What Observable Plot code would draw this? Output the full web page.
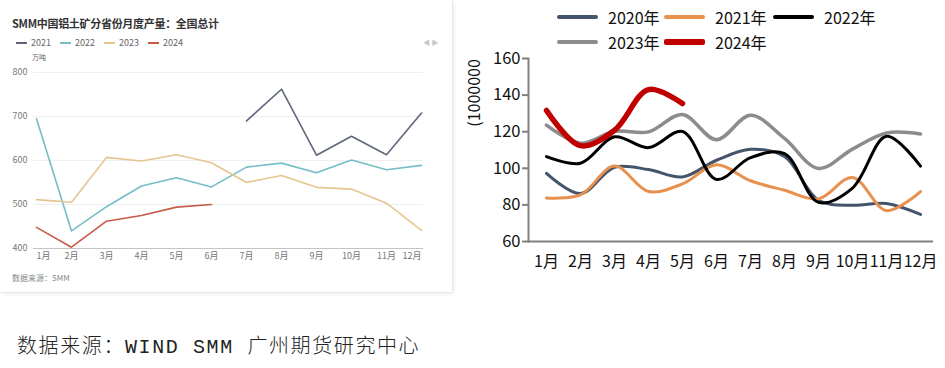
<!DOCTYPE html>
<html><head><meta charset="utf-8">
<script src="https://cdn.jsdelivr.net/npm/d3@7"></script>
<script src="https://cdn.jsdelivr.net/npm/@observablehq/plot@0.6"></script>
<style>
html,body{margin:0;padding:0;background:#fff;}
#root{position:relative;width:945px;height:368px;overflow:hidden;background:#fff;font-family:"Noto Sans CJK SC","Noto Sans",sans-serif;}
#panel{position:absolute;left:0;top:0;width:452px;height:292px;border-right:1px solid #e8e8e8;border-bottom:1px solid #e8e8e8;box-shadow:2px 2px 3px rgba(0,0,0,0.05);}
.abs{position:absolute;white-space:nowrap;}
#leftChart{position:absolute;left:0;top:0;}
#rightChart{position:absolute;left:455px;top:0;width:490px;height:280px;overflow:hidden;}
.lsw{position:absolute;height:2px;width:11px;}
.ltx{position:absolute;font-size:9px;color:#666;line-height:12px;}
.rsw{position:absolute;width:41px;height:4px;border-radius:2px;}
.rtx{position:absolute;font-size:16px;color:#111;line-height:20px;}
</style></head><body>
<div id="root">
  <div id="panel"></div>
  <div id="leftChart"></div>
  <div class="abs" style="left:12px;top:15px;font-size:11px;font-weight:bold;color:#333;line-height:16px;letter-spacing:-0.3px;">SMM中国铝土矿分省份月度产量：全国总计</div>
  <div id="leftLegend"></div>
  <div class="abs" style="left:32px;top:52px;font-size:7px;color:#666;line-height:11px;">万吨</div>
  <div class="abs" style="left:423px;top:37px;font-size:7px;color:#c8c8c8;line-height:11px;">◀ ▶</div>
  <div class="abs" style="left:12px;top:272px;font-size:8px;color:#888;line-height:12px;">数据来源：SMM</div>
  <div id="rightChart"></div>
  <div id="rightLegend"></div>
  <div class="abs" style="left:17px;top:335px;font-size:20px;line-height:26px;color:#222;font-family:'Liberation Mono','Noto Sans CJK SC',monospace;font-weight:300;letter-spacing:1.6px;">数据来源：WIND SMM 广州期货研究中心</div>
</div>
<script>
const months = ["1月","2月","3月","4月","5月","6月","7月","8月","9月","10月","11月","12月"];

// Left chart: SMM monthly output (万吨)
const leftSeries = ["2021","2022","2023","2024"];
const left2021 = [null,null,null,null,null,null,690,762,612,655,613,708];
const left2022 = [695,440,495,542,561,540,585,594,572,601,579,589];
const left2023 = [511,505,607,599,613,595,550,566,539,535,503,441];
const left2024 = [448,403,462,475,494,500];
const leftColors = ["#5f6679","#74bec6","#e6c590","#c75b48"];
const leftTicks = [400,500,600,700,800];

// Right chart
const rightSeries = ["2020年","2021年","2022年","2023年","2024年"];
const r2020 = [97.2,86.2,100.6,99.3,95.3,104.4,110.4,106.4,82.5,79.8,80.8,74.8];
const r2021 = [83.8,85.5,101.2,87.3,91.5,101.9,93.2,88,83.3,95,76.9,87.3];
const r2022 = [106.4,102.8,117.2,111.3,120.1,93.9,105.8,108,81.4,89.2,117.5,101.2];
const r2023 = [123.6,113.7,120.2,119.9,129.4,115.6,129,116.3,99.9,110.5,119.3,118.8];
const r2024 = [131.6,112.4,120.8,143,135.4];
const rightColors = ["#44546a","#e8914f","#000000","#8c8c8c","#c00000"];
const rightWidths = [3,3,3,3.5,5.5];
const rightTicks = [60,80,100,120,140,160];

function rows(series, values){
  return values.map((v,i)=>({month: months[i], value: v, series})).filter(d=>d.value!=null);
}

const leftData = [left2021,left2022,left2023,left2024];
const leftPlot = Plot.plot({
  width: 452, height: 292,
  marginTop: 72, marginBottom: 44, marginLeft: 33, marginRight: 29,
  style: {background:"transparent", fontFamily:"'Noto Sans CJK SC','Noto Sans',sans-serif"},
  x: {type:"point", domain: months, range:[33,423], padding:0, axis:null},
  y: {domain:[400,800]},
  marks: [
    Plot.ruleY(leftTicks.slice(1), {stroke:"#efefef"}),
    Plot.ruleY([400], {stroke:"#c4c4c4"}),
    Plot.axisY({ticks:leftTicks, tickSize:0, tickPadding:6, fontSize:9, fill:"#777", label:null}),
    ...leftData.map((vals,i)=>Plot.line(rows(leftSeries[i], vals), {x:"month", y:"value", stroke:leftColors[i], strokeWidth:1.6})),
    Plot.text([months[0]], {x:d=>d, frameAnchor:"bottom", dy:10, textAnchor:"start", fontSize:9, fill:"#777"}),
    Plot.text(months.slice(1,11), {x:d=>d, frameAnchor:"bottom", dy:10, textAnchor:"middle", fontSize:9, fill:"#777"}),
    Plot.text([months[11]], {x:d=>d, frameAnchor:"bottom", dy:10, textAnchor:"end", fontSize:9, fill:"#777"})
  ]
});
document.getElementById("leftChart").appendChild(leftPlot);

// left legend
const ll = document.getElementById("leftLegend");
const llX = [16,60,104,148];
leftSeries.forEach((s,i)=>{
  const sw = document.createElement("div"); sw.className="lsw";
  sw.style.left = llX[i]+"px"; sw.style.top = "42px"; sw.style.background = leftColors[i];
  ll.appendChild(sw);
  const tx = document.createElement("div"); tx.className="ltx abs";
  tx.style.left = (llX[i]+15)+"px"; tx.style.top = "36.5px"; tx.textContent = s;
  ll.appendChild(tx);
});

const rightData = [r2020,r2021,r2022,r2023,r2024];
const rightPlot = Plot.plot({
  width: 490, height: 280,
  marginTop: 58, marginBottom: 39, marginLeft: 73, marginRight: 12,
  style: {background:"transparent", fontFamily:"'Noto Sans CJK SC','Noto Sans',sans-serif", color:"#111"},
  x: {type:"point", domain: months, range:[88,468], padding:0},
  y: {domain:[60,160]},
  marks: [
    Plot.axisY({ticks:rightTicks, tickSize:6, tickPadding:2, fontSize:16.5, stroke:"#808080", strokeWidth:2, fill:"#111", label:null}),
    Plot.axisX({tickSize:0, tickPadding:14, fontSize:16, fill:"#111", label:null}),
    Plot.ruleY([60], {stroke:"#808080", strokeWidth:2}),
    Plot.frame({anchor:"left", stroke:"#808080", strokeWidth:2}),
    ...rightData.map((vals,i)=>Plot.line(rows(rightSeries[i], vals), {x:"month", y:"value", stroke:rightColors[i], strokeWidth:rightWidths[i], curve:"catmull-rom", strokeLinecap:"round"})),
    Plot.text(["(1000000"], {frameAnchor:"left", dx:-54, dy:-57, rotate:-90, fontSize:16, fill:"#111", textAnchor:"middle"})
  ]
});
document.getElementById("rightChart").appendChild(rightPlot);

// right legend
const rl = document.getElementById("rightLegend");
const rlPos = [[557,16.7],[664,16.7],[773,16.7],[557,41.7],[664,41.7]];
rightSeries.forEach((s,i)=>{
  const [x,y] = rlPos[i];
  const h = i===4 ? 6 : 4;
  const sw = document.createElement("div"); sw.className="rsw";
  sw.style.left = x+"px"; sw.style.top = (y-h/2)+"px"; sw.style.height = h+"px"; sw.style.background = rightColors[i];
  rl.appendChild(sw);
  const tx = document.createElement("div"); tx.className="rtx abs";
  tx.style.left = (x+51)+"px"; tx.style.top = (y-10)+"px"; tx.textContent = s;
  rl.appendChild(tx);
});
</script>
</body></html>
